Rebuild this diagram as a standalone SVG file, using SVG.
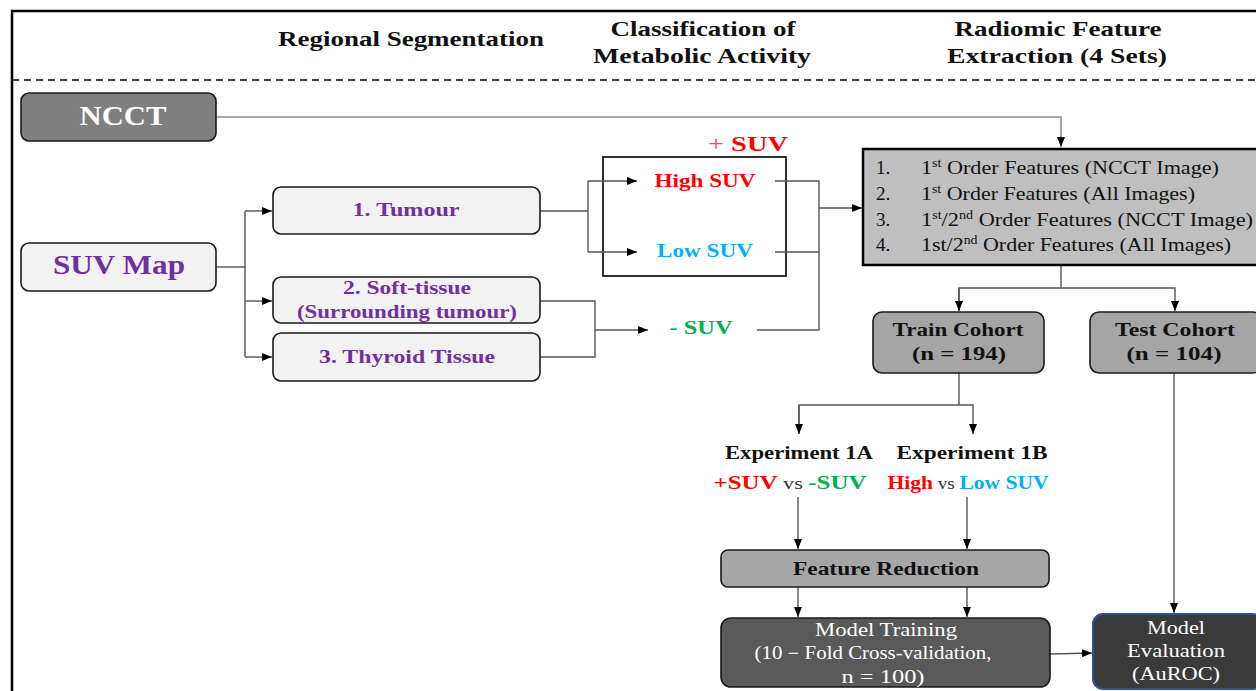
<svg xmlns="http://www.w3.org/2000/svg" width="1256" height="691" viewBox="0 0 1256 691">
  <defs>
    <marker id="arr" viewBox="0 0 10 8" refX="10" refY="4" markerWidth="10" markerHeight="8" markerUnits="userSpaceOnUse" orient="auto">
      <path d="M0,0 L10,4 L0,8 Z" fill="#000"/>
    </marker>
    <style>
      text { font-family: "Liberation Serif", "Times New Roman", serif; }
      .hd { font-size: 21px; font-weight: bold; fill: #111; text-anchor: middle; }
      .box { stroke: #1a1a1a; stroke-width: 1.6; }
      .lt { fill: #f2f2f2; }
      .pl { font-size: 18px; font-weight: bold; fill: #7030a0; text-anchor: middle; }
      .big { font-size: 27px; font-weight: bold; text-anchor: middle; }
      .bk { font-size: 18px; font-weight: bold; fill: #111; text-anchor: middle; }
      .wh { font-size: 18px; fill: #fff; text-anchor: middle; }
      .li { font-size: 19px; fill: #111; }
      .red { fill: #ff0000; }
      .blu { fill: #00b0f0; }
      .grn { fill: #00b050; }
      .vs { font-weight: normal; fill: #333; font-size: 16px; }
      .sup { font-size: 12px; }
      .cn { fill: none; stroke: #555; stroke-width: 1.4; }
      .cg { fill: none; stroke: #8c8c8c; stroke-width: 1.6; }
    </style>
  </defs>

  <rect width="1256" height="691" fill="#fff"/>

  <!-- frame and header separator -->
  <g id="frame">
    <path d="M12,691 V11 H1256" fill="none" stroke="#000" stroke-width="2.5"/>
    <line x1="12" y1="80" x2="1256" y2="80" stroke="#000" stroke-width="1.5" stroke-dasharray="7,5"/>
  </g>

  <!-- column headings -->
  <g id="headings">
    <text class="hd" x="411" y="46" textLength="266" lengthAdjust="spacingAndGlyphs">Regional Segmentation</text>
    <text class="hd" x="703" y="36" textLength="185" lengthAdjust="spacingAndGlyphs">Classification of</text>
    <text class="hd" x="702" y="63" textLength="218" lengthAdjust="spacingAndGlyphs">Metabolic Activity</text>
    <text class="hd" x="1058" y="36" textLength="207" lengthAdjust="spacingAndGlyphs">Radiomic Feature</text>
    <text class="hd" x="1057" y="63" textLength="220" lengthAdjust="spacingAndGlyphs">Extraction (4 Sets)</text>
  </g>

  <!-- +SUV classification box (drawn under the arrows that enter it) -->
  <g id="positive-suv">
    <text x="748" y="151" font-size="21" font-weight="bold" class="red" text-anchor="middle" textLength="80" lengthAdjust="spacingAndGlyphs"><tspan font-weight="normal" fill="#ff4d4d">+</tspan> SUV</text>
    <rect x="603" y="157" width="183" height="119" fill="#fff" stroke="#1a1a1a" stroke-width="1.8"/>
    <text x="705" y="187" font-size="18" font-weight="bold" class="red" text-anchor="middle" textLength="101" lengthAdjust="spacingAndGlyphs">High SUV</text>
    <text x="705" y="257" font-size="18" font-weight="bold" class="blu" text-anchor="middle" textLength="96" lengthAdjust="spacingAndGlyphs">Low SUV</text>
  </g>

  <!-- connectors -->
  <g id="connectors">
    <path class="cg" d="M216,117 H1061 V147" marker-end="url(#arr)"/>
    <path class="cn" d="M216,267 H245"/>
    <path class="cn" d="M245,211 V357"/>
    <path class="cn" d="M245,211 H272" marker-end="url(#arr)"/>
    <path class="cn" d="M245,301 H272" marker-end="url(#arr)"/>
    <path class="cn" d="M245,357 H272" marker-end="url(#arr)"/>
    <path class="cn" d="M540,211 H588"/>
    <path class="cn" d="M588,181 V252"/>
    <path class="cn" d="M588,181 H637" marker-end="url(#arr)"/>
    <path class="cn" d="M588,252 H637" marker-end="url(#arr)"/>
    <path class="cn" d="M775,181 H819 V330 H757"/>
    <path class="cn" d="M775,252 H819"/>
    <path class="cn" d="M819,208 H862" marker-end="url(#arr)"/>
    <path class="cn" d="M540,301 H595 V357 H540"/>
    <path class="cn" d="M595,330 H648" marker-end="url(#arr)" stroke="#000"/>
    <path class="cn" d="M1061,265 V288"/>
    <path class="cn" d="M959,311 V288 H1175 V311" marker-end="url(#arr)"/>
    <path class="cn" d="M959,288 V311" marker-end="url(#arr)"/>
    <path class="cn" d="M959,373 V405"/>
    <path class="cn" d="M799,434 V405 H973 V434" marker-end="url(#arr)"/>
    <path class="cn" d="M799,405 V434" marker-end="url(#arr)"/>
    <path class="cn" d="M798,497 V549" marker-end="url(#arr)"/>
    <path class="cn" d="M967,497 V549" marker-end="url(#arr)"/>
    <path class="cn" d="M798,587 V617" marker-end="url(#arr)"/>
    <path class="cn" d="M967,587 V617" marker-end="url(#arr)"/>
    <path class="cn" d="M1050,654 L1092,653" marker-end="url(#arr)"/>
    <path class="cn" d="M1174,373 V613" marker-end="url(#arr)"/>
  </g>

  <g id="ncct">
    <rect class="box" x="21" y="93" width="195" height="48" rx="8" fill="#7f7f7f"/>
    <text class="big" x="123" y="125" fill="#fff" textLength="87" lengthAdjust="spacingAndGlyphs">NCCT</text>
  </g>

  <g id="suv-map">
    <rect class="box lt" x="21" y="243" width="195" height="48" rx="8"/>
    <text class="big" x="119" y="274" fill="#7030a0" textLength="132" lengthAdjust="spacingAndGlyphs">SUV Map</text>
  </g>

  <g id="tumour">
    <rect class="box lt" x="273" y="187" width="267" height="47" rx="8"/>
    <text class="pl" x="406" y="216" textLength="107" lengthAdjust="spacingAndGlyphs">1. Tumour</text>
  </g>

  <g id="soft-tissue">
    <rect class="box lt" x="273" y="277" width="267" height="46" rx="8"/>
    <text class="pl" x="407" y="294" textLength="128" lengthAdjust="spacingAndGlyphs">2. Soft-tissue</text>
    <text class="pl" x="407" y="318" textLength="220" lengthAdjust="spacingAndGlyphs">(Surrounding tumour)</text>
  </g>

  <g id="thyroid">
    <rect class="box lt" x="273" y="333" width="267" height="48" rx="8"/>
    <text class="pl" x="407" y="363" textLength="176" lengthAdjust="spacingAndGlyphs">3. Thyroid Tissue</text>
  </g>

  <g id="negative-suv">
    <text x="701" y="334" font-size="18" font-weight="bold" class="grn" text-anchor="middle" textLength="63" lengthAdjust="spacingAndGlyphs">- SUV</text>
  </g>

  <g id="feature-sets">
    <rect x="863" y="149" width="400" height="116" fill="#bfbfbf" stroke="#000" stroke-width="2.5"/>
    <text class="li" x="876" y="174">1.</text>
    <text class="li" x="876" y="200">2.</text>
    <text class="li" x="876" y="226">3.</text>
    <text class="li" x="876" y="251">4.</text>
    <text class="li" x="921" y="174" textLength="298" lengthAdjust="spacingAndGlyphs">1<tspan class="sup" dy="-7">st</tspan><tspan dy="7"> Order Features (NCCT Image)</tspan></text>
    <text class="li" x="921" y="200" textLength="274" lengthAdjust="spacingAndGlyphs">1<tspan class="sup" dy="-7">st</tspan><tspan dy="7"> Order Features (All Images)</tspan></text>
    <text class="li" x="921" y="226" textLength="332" lengthAdjust="spacingAndGlyphs">1<tspan class="sup" dy="-7">st</tspan><tspan dy="7">/2</tspan><tspan class="sup" dy="-7">nd</tspan><tspan dy="7"> Order Features (NCCT Image)</tspan></text>
    <text class="li" x="921" y="251" textLength="310" lengthAdjust="spacingAndGlyphs">1st/2<tspan class="sup" dy="-7">nd</tspan><tspan dy="7"> Order Features (All Images)</tspan></text>
  </g>

  <g id="train-cohort">
    <rect class="box" x="873" y="312" width="171" height="61" rx="9" fill="#a5a5a5"/>
    <text class="bk" x="958" y="336" textLength="131" lengthAdjust="spacingAndGlyphs">Train Cohort</text>
    <text class="bk" x="959" y="360" textLength="94" lengthAdjust="spacingAndGlyphs">(n = 194)</text>
  </g>

  <g id="test-cohort">
    <rect class="box" x="1090" y="312" width="172" height="61" rx="9" fill="#a5a5a5"/>
    <text class="bk" x="1175" y="336" textLength="120" lengthAdjust="spacingAndGlyphs">Test Cohort</text>
    <text class="bk" x="1174" y="360" textLength="95" lengthAdjust="spacingAndGlyphs">(n = 104)</text>
  </g>

  <g id="experiment-1a">
    <text class="bk" x="799" y="459" textLength="148" lengthAdjust="spacingAndGlyphs">Experiment 1A</text>
    <text x="790" y="489" font-size="18" font-weight="bold" text-anchor="middle" textLength="153" lengthAdjust="spacingAndGlyphs"><tspan class="red">+SUV</tspan><tspan class="vs"> vs </tspan><tspan class="grn">-SUV</tspan></text>
  </g>

  <g id="experiment-1b">
    <text class="bk" x="972" y="459" textLength="151" lengthAdjust="spacingAndGlyphs">Experiment 1B</text>
    <text x="968" y="489" font-size="18" font-weight="bold" text-anchor="middle" textLength="161" lengthAdjust="spacingAndGlyphs"><tspan class="red">High</tspan><tspan class="vs"> vs </tspan><tspan class="blu">Low SUV</tspan></text>
  </g>

  <g id="feature-reduction">
    <rect class="box" x="721" y="550" width="328" height="37" rx="7" fill="#a6a6a6"/>
    <text class="bk" x="886" y="575" textLength="186" lengthAdjust="spacingAndGlyphs">Feature Reduction</text>
  </g>

  <g id="model-training">
    <rect class="box" x="721" y="618" width="329" height="69" rx="10" fill="#595959"/>
    <text class="wh" x="886" y="636" textLength="142" lengthAdjust="spacingAndGlyphs">Model Training</text>
    <text class="wh" x="873" y="659" textLength="237" lengthAdjust="spacingAndGlyphs">(10 − Fold Cross-validation,</text>
    <text class="wh" x="883" y="683" textLength="83" lengthAdjust="spacingAndGlyphs">n = 100)</text>
  </g>

  <g id="model-evaluation">
    <rect x="1093" y="614" width="170" height="75" rx="10" fill="#3a3a3a" stroke="#2f528f" stroke-width="2"/>
    <text class="wh" x="1176" y="634" textLength="58" lengthAdjust="spacingAndGlyphs">Model</text>
    <text class="wh" x="1176" y="657" textLength="98" lengthAdjust="spacingAndGlyphs">Evaluation</text>
    <text class="wh" x="1176" y="680" textLength="88" lengthAdjust="spacingAndGlyphs">(AuROC)</text>
  </g>
</svg>
